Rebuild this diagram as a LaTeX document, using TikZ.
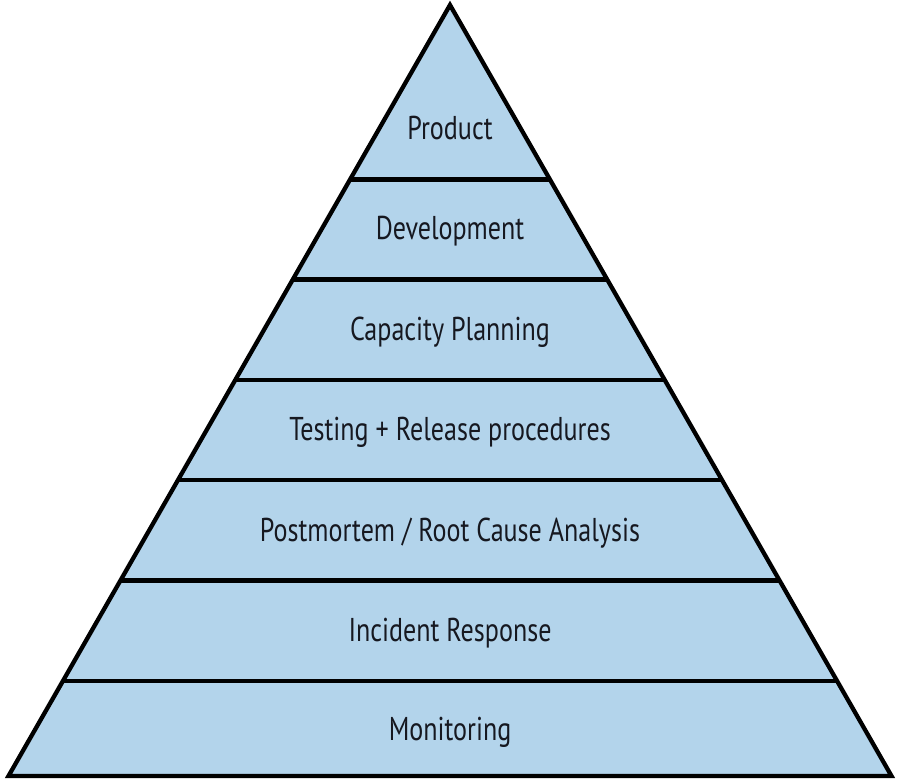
\documentclass[tikz,border=0pt]{standalone}
\usepackage{fontspec}
\setmainfont{PT Sans}[FakeStretch=0.79]
\usetikzlibrary{calc}
\definecolor{pyrblue}{RGB}{179,212,235}
\definecolor{inkblack}{RGB}{22,24,32}

\begin{document}
\begin{tikzpicture}[x=1pt, y=-1pt, every node/.style={font=\fontsize{33}{38}\selectfont, text=inkblack, anchor=base}]
                            \useasboundingbox (0,0) rectangle (900,779);
                            \coordinate (apex) at (450,5);
                            \coordinate (bl) at (8.5,776);
                            \coordinate (br) at (891.5,776);
                            \fill[pyrblue] (apex) -- (bl) -- (br) -- cycle;
                            \foreach \y in {179.5,279.5,380,480,580.5,681} {
                                \draw[line width=4.3pt] ($(apex)!{(\y-5)/771}!(bl)$) -- ($(apex)!{(\y-5)/771}!(br)$);
                            }
                            \draw[line width=4.3pt, line join=miter] (apex) -- (bl) -- (br) -- cycle;

                            \node at (450,139) (product) {Product};
                            \node at (450,239) (devel) {Development};
                            \node at (450,340) (capacity) {Capacity Planning};
                            \node at (450,440) (testing) {Testing + Release procedures};
                            \node at (450,541) (postmortem) {Postmortem / Root Cause Analysis};
                            \node at (450,641) (incident) {Incident Response};
                            \node at (450,740) (monitoring) {Monitoring};
                     \end{tikzpicture}
\end{document}
